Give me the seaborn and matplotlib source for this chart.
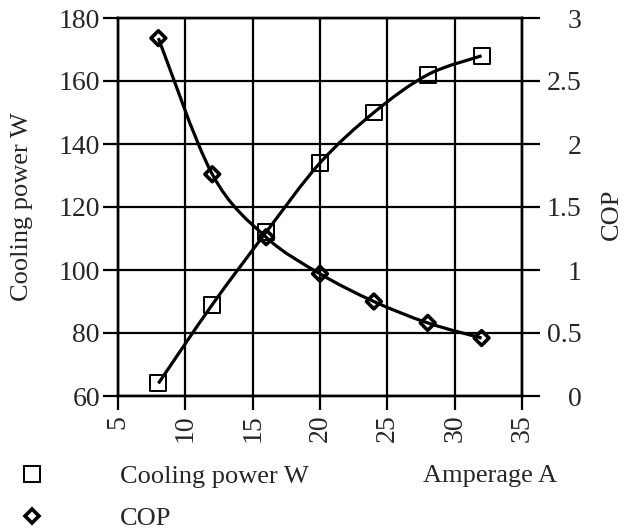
import numpy as np
import matplotlib
matplotlib.use("Agg")
import matplotlib.pyplot as plt
import seaborn as sns
import pandas as pd
from matplotlib.path import Path
from matplotlib.patches import PathPatch
from matplotlib.lines import Line2D

# ---- data ----
amperage = [8, 12, 16, 20, 24, 28, 32]
cooling_power = [64, 89, 112, 134, 150, 162, 168]
cop = [2.84, 1.76, 1.26, 0.97, 0.75, 0.58, 0.46]
x_ticks = [5, 10, 15, 20, 25, 30, 35]
left_ticks = [60, 80, 100, 120, 140, 160, 180]
right_ticks = [0, 0.5, 1, 1.5, 2, 2.5, 3]
right_tick_labels = ["0", "0.5", "1", "1.5", "2", "2.5", "3"]

sns.set_theme(style="white")
plt.rcParams['font.family'] = ['Liberation Serif', 'DejaVu Serif']

df = pd.DataFrame({"amperage": amperage, "cooling_power": cooling_power, "cop": cop})

W, H = 627, 532
fig = plt.figure(figsize=(W / 100, H / 100), dpi=100)
fig.patch.set_facecolor("white")
ax = fig.add_axes([118 / W, 1 - 396 / H, (522 - 118) / W, (396 - 18) / H])
ax2 = ax.twinx()


def smooth_path(xs, ys):
    pts = np.column_stack([xs, ys]).astype(float)
    n = len(pts)
    verts = [pts[0]]
    codes = [Path.MOVETO]
    for i in range(n - 1):
        p0 = pts[i - 1] if i > 0 else pts[i]
        p1 = pts[i]
        p2 = pts[i + 1]
        p3 = pts[i + 2] if i + 2 < n else pts[i + 1]
        c1 = p1 + (p2 - p0) / 6.0
        c2 = p2 - (p3 - p1) / 6.0
        verts += [c1, c2, p2]
        codes += [Path.CURVE4] * 3
    return Path(verts, codes)


ax.add_patch(PathPatch(smooth_path(df.amperage, df.cooling_power), fill=False,
                       lw=2.3, edgecolor="black", zorder=3))
ax2.add_patch(PathPatch(smooth_path(df.amperage, df.cop), fill=False,
                        lw=2.3, edgecolor="black", zorder=3))

sns.scatterplot(data=df, x="amperage", y="cooling_power", marker="s", s=11.5 ** 2,
                facecolors="none", edgecolors="black", linewidth=1.4, ax=ax, zorder=4)
sns.scatterplot(data=df, x="amperage", y="cop", marker="D", s=7.5 ** 2,
                facecolors="none", edgecolors="black", linewidth=2.6, ax=ax2, zorder=4)

ax.set_xlim(5, 35)
ax.set_ylim(60, 180)
ax2.set_ylim(0, 3)

ax.set_xticks(x_ticks, [str(v) for v in x_ticks], rotation=90)
ax.set_yticks(left_ticks, [str(v) for v in left_ticks])
ax2.set_yticks(right_ticks, right_tick_labels)

ax.grid(True, color="black", lw=1.6)
ax2.grid(False)
ax.set_axisbelow(True)
for a in (ax, ax2):
    for s in a.spines.values():
        s.set_color("black")
        s.set_linewidth(1.7)
        s.set_visible(True)

ax.tick_params(axis="x", direction="out", length=10, width=1.6, color="black",
               labelsize=20, pad=3.5, bottom=True)
ax.tick_params(axis="y", direction="out", length=11, width=1.6, color="black",
               labelsize=20, pad=2, left=True)
ax2.tick_params(axis="y", direction="out", length=13, width=1.6, color="black",
                labelsize=20, pad=30, right=True)
for t in ax2.get_yticklabels():
    t.set_horizontalalignment("right")

ax.set_xlabel("Amperage A", fontsize=19, va="center")
ax.xaxis.set_label_coords((490 - 118) / 404, (396 - 476) / 378)
ax.set_ylabel("Cooling power W", fontsize=19, va="center")
ax.yaxis.set_label_coords((22 - 118) / 404, 0.5)
ax2.set_ylabel("COP", fontsize=19, va="center")
ax2.yaxis.set_label_coords((612 - 118) / 404, (396 - 214) / 378)

handles = [
    Line2D([], [], marker="s", ls="none", mfc="none", mec="black", ms=11.5, mew=1.4),
    Line2D([], [], marker="D", ls="none", mfc="none", mec="black", ms=7.5, mew=2.6),
]
fig.legend(handles, ["Cooling power W", "COP"], loc="upper left",
           bbox_to_anchor=(18.8 / W, 1 - 465 / H), frameon=False, fontsize=19,
           handlelength=1.0, handletextpad=2.83, labelspacing=0.68,
           borderpad=0, borderaxespad=0)

fig.savefig("out.png", dpi=100)
